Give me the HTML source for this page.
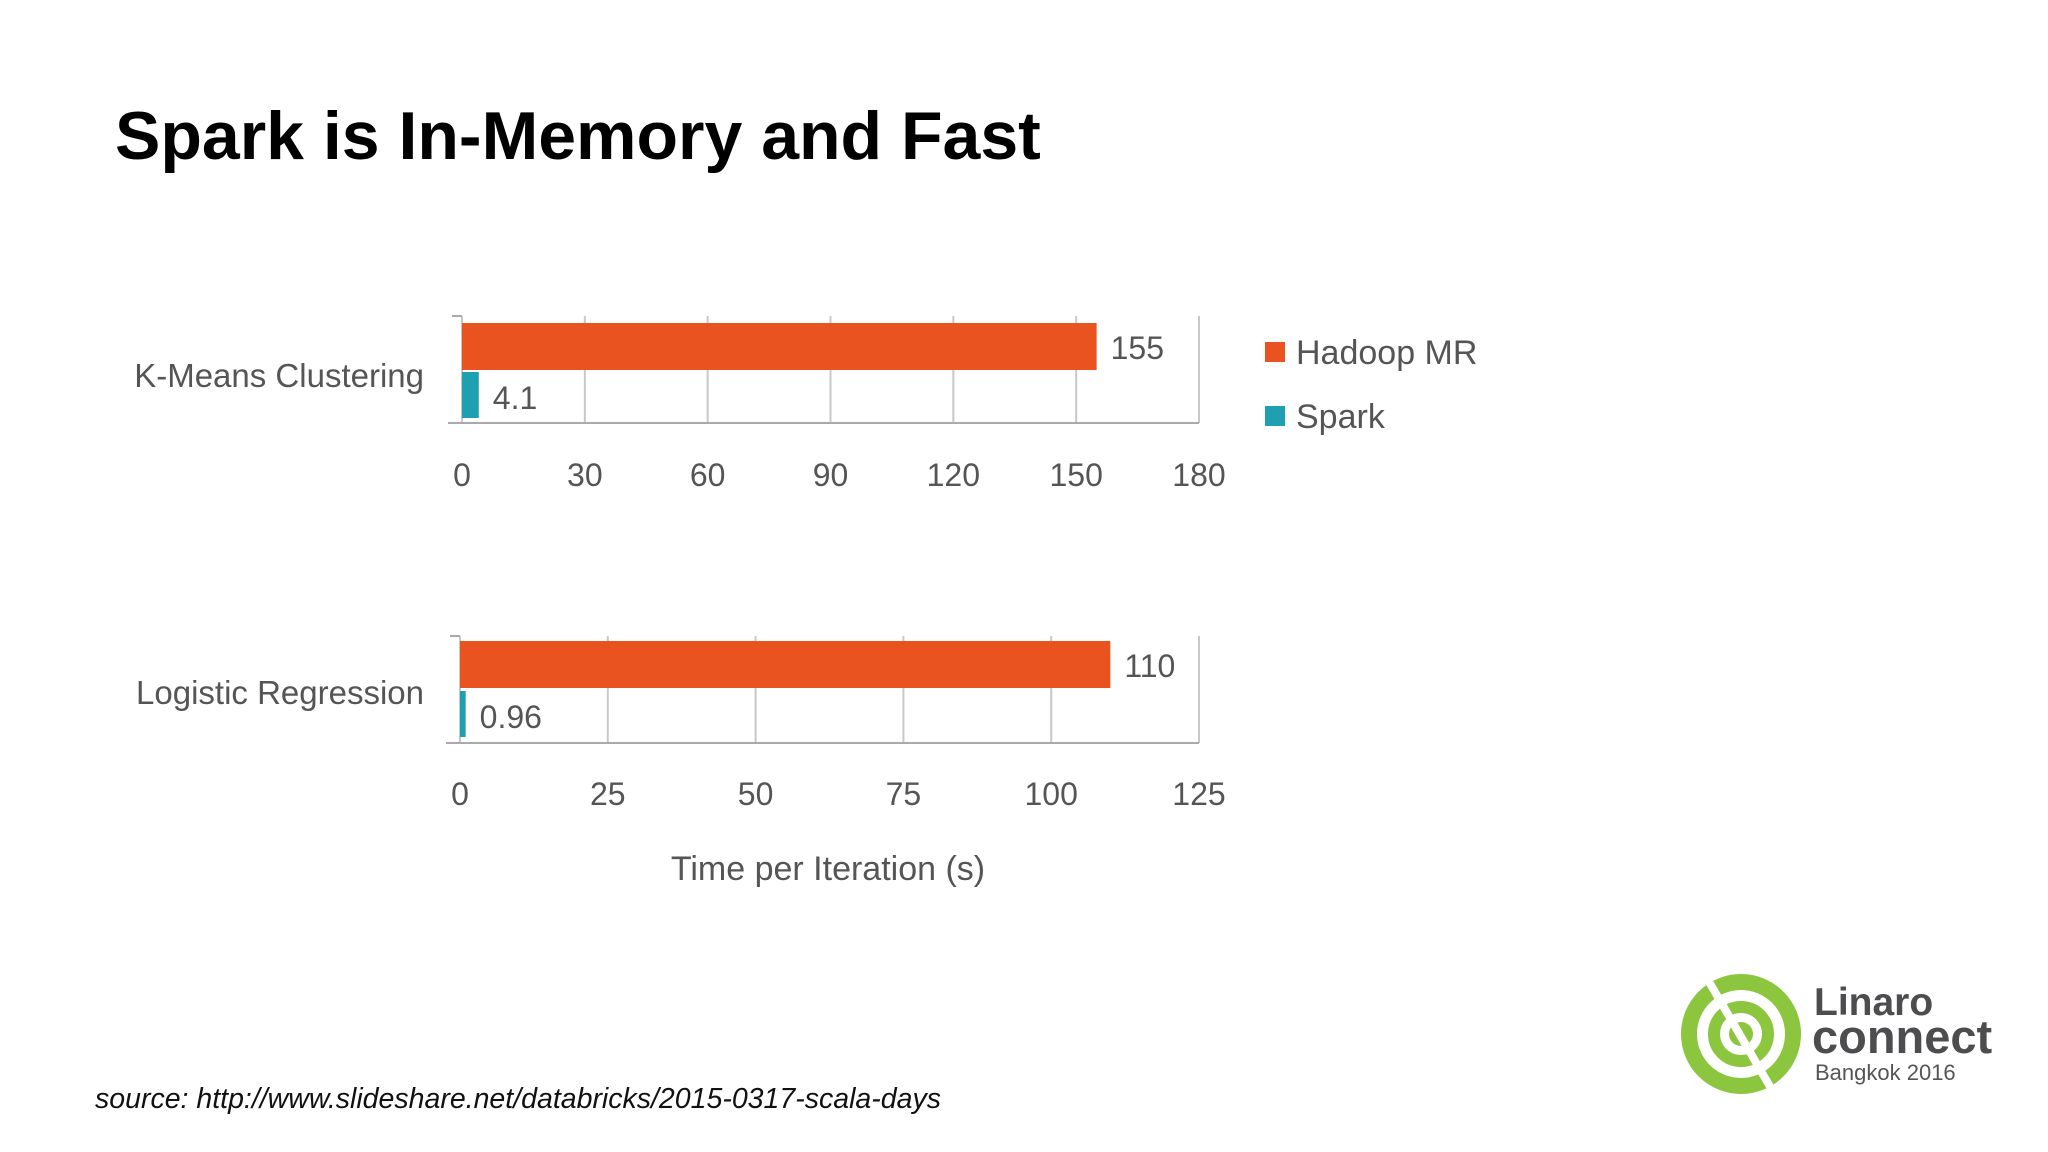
<!DOCTYPE html>
<html><head><meta charset="utf-8"><style>
html,body{margin:0;padding:0;background:#fff;}
body{width:2048px;height:1152px;position:relative;overflow:hidden;font-family:"Liberation Sans",sans-serif;}
</style></head><body>
<div style="position:absolute;left:115px;top:97px;font-size:68px;font-weight:bold;color:#000;">Spark is In-Memory and Fast</div>
<svg id="chart" width="2048" height="1152" style="position:absolute;left:0;top:0" font-family="Liberation Sans, sans-serif"></svg>
<div style="position:absolute;left:95px;top:1083px;font-size:28.5px;font-style:italic;color:#111;">source: http://www.slideshare.net/databricks/2015-0317-scala-days</div>
<svg width="360" height="150" style="position:absolute;left:1660px;top:960px" font-family="Liberation Sans, sans-serif">
<circle cx="81" cy="74" r="52" fill="none" stroke="#8cc63f" stroke-width="16"/>
<circle cx="81" cy="74" r="27" fill="none" stroke="#8cc63f" stroke-width="12"/>
<circle cx="81" cy="74" r="12" fill="#8cc63f"/>
<line x1="48" y1="20" x2="112" y2="130" stroke="#fff" stroke-width="8"/>
<text x="154" y="55" font-size="39" font-weight="bold" fill="#4d4d4f">Linaro</text>
<text x="152" y="93" font-size="47" font-weight="bold" fill="#4d4d4f">connect</text>
<text x="155" y="120" font-size="22" fill="#555">Bangkok 2016</text>
</svg>
<script>
const categories = ["K-Means Clustering","Logistic Regression"];
const hadoopValues = [155,110];
const sparkValues = [4.1,0.96];
const hadoopLabels = ["155","110"];
const sparkLabels = ["4.1","0.96"];
const tickSets = [[0,30,60,90,120,150,180],[0,25,50,75,100,125]];
const seriesNames = ["Hadoop MR","Spark"];
const axisTitle = "Time per Iteration (s)";

const svg = document.getElementById('chart');
const NS = "http://www.w3.org/2000/svg";
function mk(tag, attrs, parent){const e=document.createElementNS(NS,tag);for(const k in attrs)e.setAttribute(k,attrs[k]);(parent||svg).appendChild(e);return e;}
const panels = [{x0:462,x1:1199,top:316,base:423,hy:323,sy:372,ty:486,ly:387},{x0:460,x1:1199,top:636,base:743,hy:641,sy:691,ty:805,ly:704}];
const colH="#e8531f", colS="#1fa0b0";
panels.forEach((p,i)=>{
  const ticks=tickSets[i];const max=ticks[ticks.length-1];
  const sx=v=>p.x0+(p.x1-p.x0)*v/max;
  ticks.forEach(t=>{
    const g=mk('line',{x1:sx(t),x2:sx(t),y1:p.top,y2:p.base,stroke:'#c8c8c8','stroke-width':2});
    
    
    const tl=mk('text',{x:sx(t),y:p.ty,'font-size':32,fill:'#555','text-anchor':'middle'});
    tl.textContent=t;
    
    
  });
  const ax=mk('line',{x1:p.x0-14,x2:p.x1,y1:p.base,y2:p.base,stroke:'#aaa','stroke-width':2});
  
  
  const ya=mk('line',{x1:p.x0-10,x2:p.x0,y1:p.top,y2:p.top,stroke:'#aaa','stroke-width':2});
  
  
  const h=mk('rect',{x:p.x0,y:p.hy,width:sx(hadoopValues[i])-p.x0,height:47,fill:colH});
  
  
  const s=mk('rect',{x:p.x0,y:p.sy,width:Math.max(4,sx(sparkValues[i])-p.x0),height:46,fill:colS});
  
  
  const hl=mk('text',{x:sx(hadoopValues[i])+14,y:p.hy+36,'font-size':32,fill:'#555'});
  hl.textContent=hadoopLabels[i];
  
  
  const sl=mk('text',{x:sx(sparkValues[i])+14,y:p.sy+37,'font-size':32,fill:'#555'});
  sl.textContent=sparkLabels[i];
  
  
  const cl=mk('text',{x:424,y:p.ly,'font-size':33,fill:'#555','text-anchor':'end'});
  cl.textContent=categories[i];
  
  
});
[[colH,342],[colS,406]].forEach((l,i)=>{
  const r=mk('rect',{x:1265,y:l[1],width:20,height:20,fill:l[0]});
  
  
  const t=mk('text',{x:1296,y:l[1]+22,'font-size':34,fill:'#555'});
  t.textContent=seriesNames[i];
  
  
});
const at=mk('text',{x:828,y:880,'font-size':34,fill:'#555','text-anchor':'middle'});
at.textContent=axisTitle;


</script>
</body></html>
